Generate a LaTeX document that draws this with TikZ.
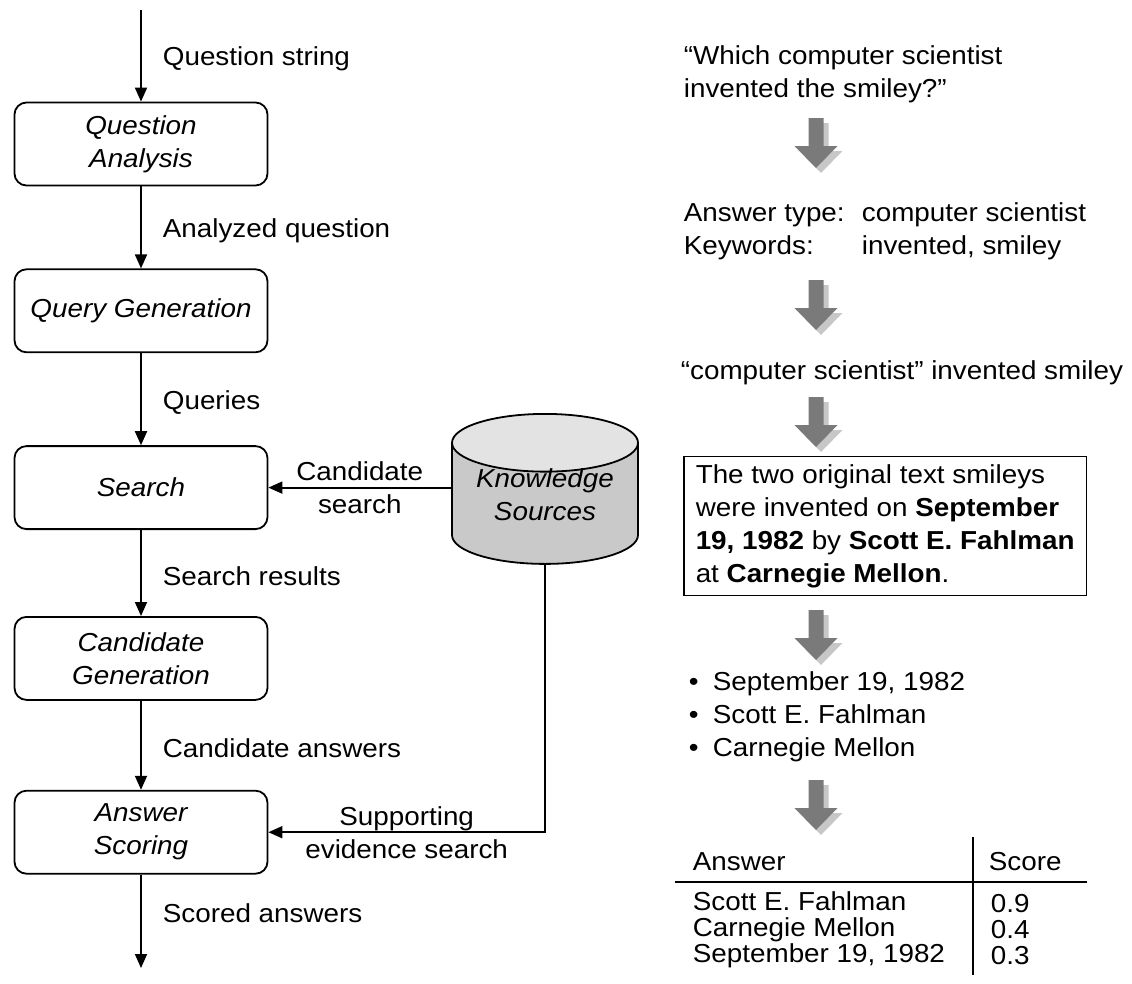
\documentclass[tikz,border=0pt]{standalone}
\usepackage{fontspec}
\setmainfont{Liberation Sans}[FakeStretch=1.07]
\usetikzlibrary{positioning,shapes.geometric,arrows.meta}

\newcommand\qafont{\fontsize{26}{33}\selectfont}
\newcommand\rowfont{\fontsize{26}{26}\selectfont}

\tikzset{
  stage/.style={draw, rounded corners=12pt, minimum width=253pt, minimum height=83pt, align=center, font=\qafont\itshape},
  store/.style={draw, cylinder, shape border rotate=90, aspect=0.4, minimum width=186pt, minimum height=150pt,
    cylinder uses custom fill, cylinder body fill=black!21, cylinder end fill=black!11, align=center, font=\qafont\itshape},
  lbl/.style={right=21pt, inner sep=0pt, yshift=-3pt},
  txt/.style={anchor=west, align=left, inner sep=0pt},
  flowarrow/.pic={
    \foreach \off/\tone in {5/black!22,0/black!52}
      \fill[\tone, shift={(\off,\off)}] (-7.5,0) -- (7.5,0) -- (7.5,28) -- (21.5,28) -- (0,50) -- (-21.5,28) -- (-7.5,28) -- cycle;
  }
}

\begin{document}
\begin{tikzpicture}[x=1pt, y=-1pt, line width=1.8pt, >={Triangle[length=14pt,width=12pt]}, font=\qafont]
\useasboundingbox (0,0) rectangle (1132,983);

% pipeline on the left
\coordinate (in) at (141,10);
\node[stage] (QA) at (141,144) {Question\\Analysis};
\node[stage] (QG) [below=82pt of QA] {Query Generation};
\node[stage] (S) [below=92pt of QG] {Search};
\node[stage] (CG) [below=86pt of S] {Candidate\\Generation};
\node[stage] (AS) [below=89pt of CG] {Answer\\Scoring};
\coordinate (out) at (141,968);

\draw[->] (in) -- (QA) node[lbl, midway] {Question string};
\foreach \from/\to/\what in {QA/QG/Analyzed question, QG/S/Queries, S/CG/Search results, CG/AS/Candidate answers}
  \draw[->] (\from) -- (\to) node[lbl, midway] {\what};
\draw[->] (AS) -- (out) node[lbl, pos=0.38] {Scored answers};

% knowledge sources
\node[store, anchor=north, label={[align=center, font=\qafont\itshape, anchor=center, yshift=-82pt]north:Knowledge\\Sources}]
  (KS) at (545,413) {\phantom{Knowledge}\\\phantom{Sources}};
\draw[->] (KS.west |- S.east) -- (S.east) node[midway, align=center] {Candidate\\search};
\draw[->] (KS.south) |- (AS.east) node[pos=0.75, align=center] {Supporting\\evidence search};

% worked example on the right
\node[txt] (q) at (683,74) {“Which computer scientist\\invented the smiley?”};
\pic at (816,118) {flowarrow};
\node[txt] (kw) at (683,231) {\makebox[178pt][l]{Answer type:}computer scientist\\\makebox[178pt][l]{Keywords:}invented, smiley};
\pic at (816,280) {flowarrow};
\node[txt] (qry) at (680,373) {“computer scientist” invented smiley};
\pic at (816,397) {flowarrow};
\node[txt, draw, line width=1.5pt, inner xsep=12pt, inner ysep=8pt] (psg) at (683,526)
  {The two original text smileys\\were invented on \textbf{September}\\\textbf{19, 1982} by \textbf{Scott E. Fahlman}\\at \textbf{Carnegie Mellon}.};
\pic at (816,610) {flowarrow};
\node[txt] (cand) at (688,717) {\makebox[24pt][l]{•}September 19, 1982\\\makebox[24pt][l]{•}Scott E. Fahlman\\\makebox[24pt][l]{•}Carnegie Mellon};
\pic at (816,780) {flowarrow};

% score table
\node[txt] (hA) at (692,862) {Answer};
\node[txt] (hS) at (988,862) {Score};
\node[txt, font=\rowfont] (names) at (692,930) {Scott E. Fahlman\\Carnegie Mellon\\September 19, 1982};
\node[txt, font=\rowfont] (scores) at (990,930) {0.9\\0.4\\0.3};
\draw[line width=1.5pt] (675,882) -- (1087,882);
\draw[line width=1.5pt] (973,837) -- (973,975);
\end{tikzpicture}
\end{document}
